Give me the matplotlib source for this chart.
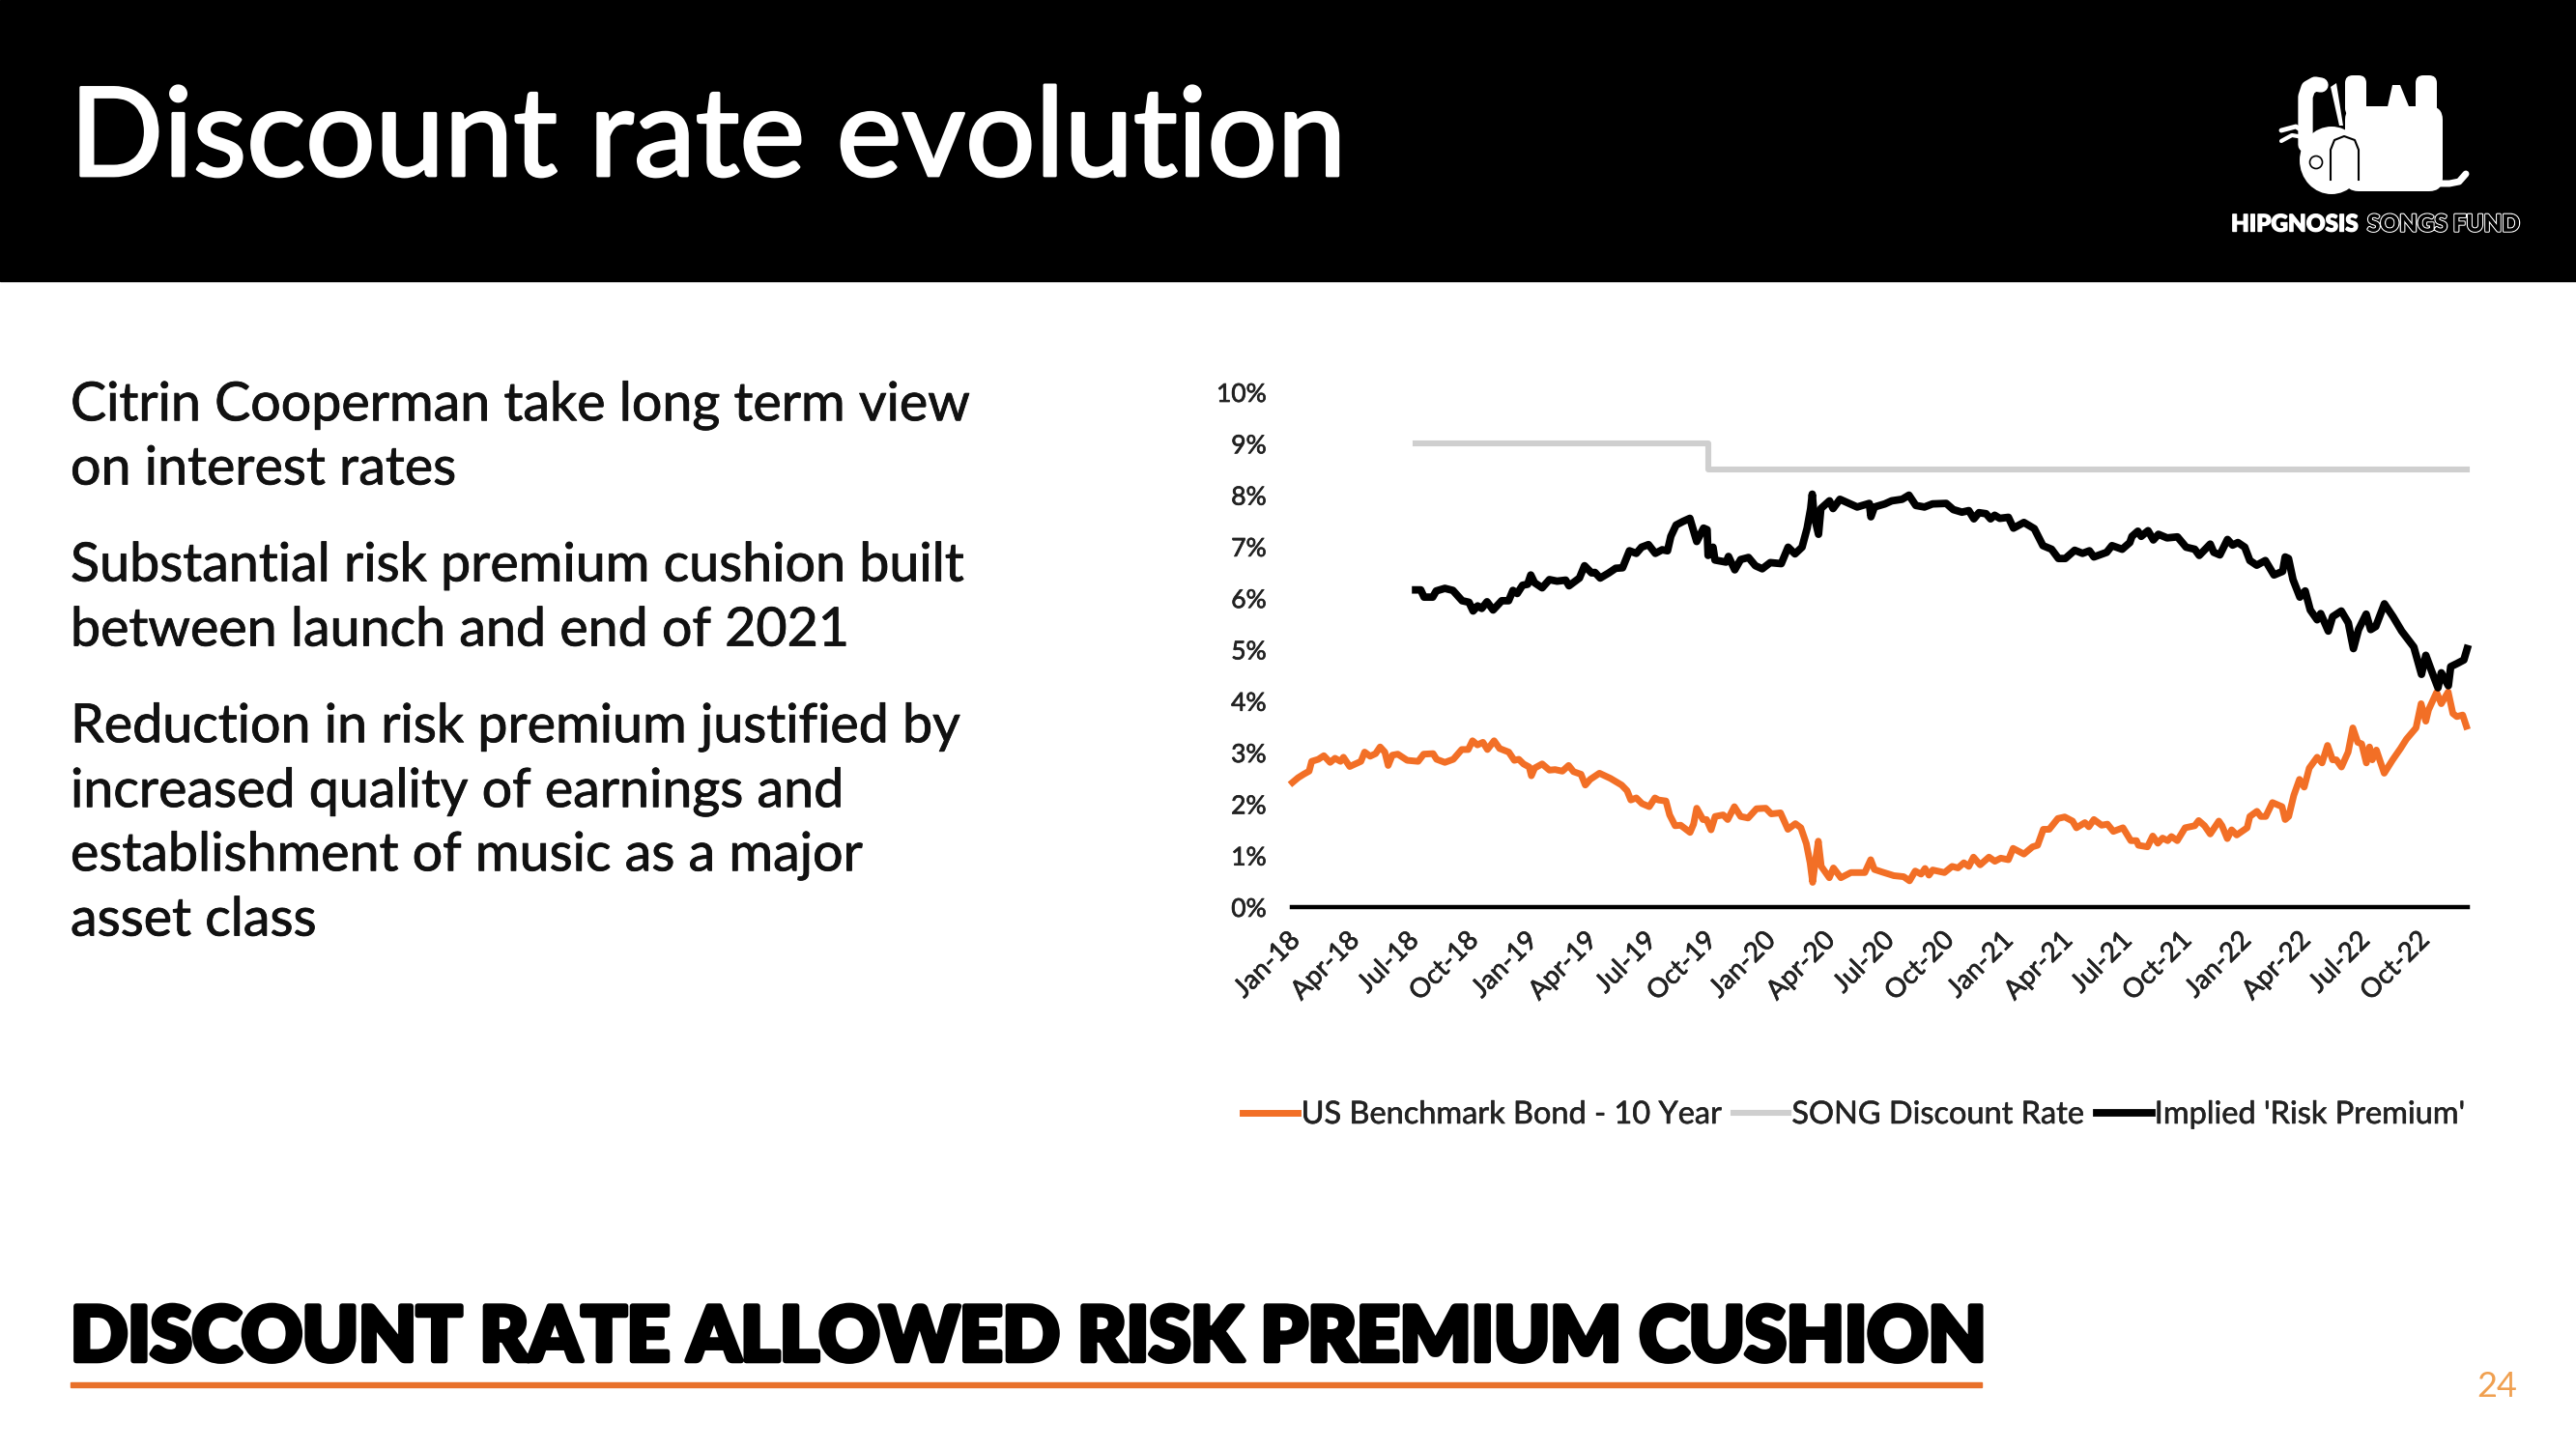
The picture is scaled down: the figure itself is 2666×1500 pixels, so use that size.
import matplotlib
matplotlib.use("Agg")
import matplotlib.pyplot as plt
import matplotlib.patheffects as pe
from matplotlib.patches import Rectangle, FancyBboxPatch, Circle, Ellipse, Polygon
from matplotlib.transforms import ScaledTranslation

plt.rcParams["font.family"] = ["Lato", "DejaVu Sans"]

# months since Jan-18, values in percent
bond_months = [0.03, .31, .60, .88, 1.01, 1.35, 1.63, 1.95, 2.20, 2.48, 2.63, 2.95, 3.52, 3.71, 3.99, 4.27, 4.50, 4.74, 4.91, 5.12,
               5.40, 5.88, 6.44, 6.72, 7.20, 7.38, 7.80, 8.23, 8.66, 8.99, 9.21, 9.46, 9.74, 9.97, 10.31, 10.59, 11.06, 11.34, 11.57, 11.81,
               12.10, 12.21, 12.38, 12.76, 13.13, 13.42, 13.79, 14.11, 14.36, 14.74, 14.96, 15.21, 15.68, 16.24, 16.81, 17.09, 17.28, 17.56, 17.85, 18.22,
               18.51, 18.69, 19.07, 19.26, 19.54, 19.82, 20.30, 20.48, 20.64, 20.96, 21.14, 21.37, 21.58, 21.99, 22.22, 22.56, 22.88, 23.26, 23.69, 24.16,
               24.44, 24.91, 25.29, 25.67, 25.95, 26.23, 26.42, 26.55, 26.70, 26.84, 26.99, 27.40, 27.61, 27.99, 28.50, 29.21,
               29.51, 29.70, 30.10, 30.69, 31.19, 31.49, 31.78, 32.08, 32.28, 32.48, 32.67, 33.27, 33.66, 33.96, 34.26, 34.51, 34.75, 35.09, 35.54, 35.84,
               36.14, 36.53, 36.77, 37.32, 37.76, 38.02, 38.31, 38.61, 39.05, 39.40, 39.80, 40.00, 40.43, 40.63, 40.89, 41.28, 41.58, 41.88, 42.37, 42.77,
               43.06, 43.16, 43.62, 43.89, 44.15, 44.39, 44.65, 44.84, 45.14, 45.54, 46.03, 46.23, 46.53, 46.82, 47.26, 47.42, 47.69, 47.91, 48.17, 48.70,
               48.84, 49.20, 49.40, 49.65, 49.99, 50.48, 50.64, 50.82, 51.08, 51.37, 51.61, 51.87, 52.27, 52.52, 52.80, 53.06, 53.25, 53.51, 53.85, 54.09,
               54.34, 54.54, 54.78, 54.94, 55.08, 55.29, 55.69, 56.12, 56.52, 56.82, 57.31, 57.57, 57.81, 57.95, 58.36, 58.60, 58.95, 59.19, 59.39, 59.69, 59.88]
bond_values = [2.42, 2.51, 2.58, 2.64, 2.83, 2.87, 2.94, 2.81, 2.89, 2.83, 2.91, 2.73, 2.83, 3.01, 2.93, 2.98, 3.11, 3.01, 2.75, 2.95,
               2.97, 2.85, 2.83, 2.97, 2.98, 2.87, 2.81, 2.87, 3.06, 3.06, 3.23, 3.15, 3.20, 3.06, 3.23, 3.08, 3.01, 2.85, 2.87, 2.78,
               2.72, 2.55, 2.70, 2.78, 2.66, 2.67, 2.64, 2.75, 2.63, 2.58, 2.37, 2.48, 2.60, 2.50, 2.37, 2.26, 2.08, 2.12, 2.01, 1.95,
               2.12, 2.08, 2.06, 1.79, 1.58, 1.59, 1.45, 1.61, 1.92, 1.70, 1.70, 1.50, 1.76, 1.79, 1.70, 1.95, 1.76, 1.73, 1.91, 1.92,
               1.81, 1.83, 1.51, 1.62, 1.54, 1.23, 0.86, 0.48, 0.92, 1.28, 0.79, 0.57, 0.76, 0.57, 0.67, 0.67,
               0.92, 0.73, 0.68, 0.61, 0.59, 0.51, 0.70, 0.64, 0.75, 0.62, 0.72, 0.67, 0.79, 0.76, 0.86, 0.79, 0.97, 0.82, 0.97, 0.89,
               0.95, 0.92, 1.14, 1.03, 1.17, 1.20, 1.51, 1.51, 1.72, 1.75, 1.67, 1.54, 1.64, 1.56, 1.70, 1.59, 1.61, 1.47, 1.54, 1.29,
               1.29, 1.20, 1.17, 1.38, 1.24, 1.34, 1.29, 1.37, 1.29, 1.54, 1.58, 1.68, 1.58, 1.42, 1.67, 1.58, 1.33, 1.50, 1.40, 1.54,
               1.76, 1.86, 1.76, 1.76, 2.03, 1.95, 1.70, 1.76, 2.17, 2.48, 2.33, 2.70, 2.91, 2.80, 3.14, 2.86, 2.86, 2.72, 3.01, 3.48,
               3.20, 3.17, 2.80, 3.11, 2.86, 3.05, 2.60, 2.86, 3.08, 3.26, 3.48, 3.95, 3.61, 3.83, 4.17, 3.95, 4.18, 3.76, 3.70, 3.73, 3.51]

premium_months = [6.31, 6.57, 6.74, 7.18, 7.36, 7.80, 8.21, 8.68, 9.03, 9.24, 9.47, 9.68, 9.95, 10.26, 10.70, 11.05, 11.27, 11.49, 11.76, 12.02,
                  12.18, 12.37, 12.76, 13.13, 13.52, 13.96, 14.13, 14.66, 14.92, 15.28, 15.45, 15.72, 16.16, 16.51, 16.86, 17.21, 17.56, 17.83, 18.18, 18.53,
                  18.88, 19.15, 19.32, 19.59, 19.94, 20.29, 20.64, 20.99, 21.17, 21.22, 21.47, 21.57, 22.14, 22.26, 22.58, 22.88, 23.28, 23.63, 23.98, 24.39,
                  24.95, 25.30, 25.65, 26.01, 26.27, 26.45, 26.53, 26.62, 26.85, 26.97, 27.41, 27.59, 27.94, 28.47, 28.82, 29.44, 29.52, 29.70, 30.23, 30.58,
                  31.11, 31.46, 31.81, 32.25, 32.66, 33.36, 33.72, 34.16, 34.51, 34.77, 35.03, 35.39, 35.62, 35.83, 36.09, 36.53, 36.79, 37.32, 37.85, 38.29,
                  38.73, 39.08, 39.43, 39.91, 40.31, 40.66, 40.89, 41.54, 41.81, 42.33, 42.72, 42.83, 43.13, 43.30, 43.65, 43.92, 44.18, 44.62, 45.15, 45.59,
                  46.03, 46.26, 46.82, 47.00, 47.31, 47.70, 47.96, 48.23, 48.58, 48.84, 49.19, 49.63, 50.07, 50.51, 50.64, 50.81, 51.04, 51.39, 51.66, 51.92,
                  52.27, 52.45, 52.84, 53.06, 53.50, 53.86, 54.12, 54.38, 54.77, 55.00, 55.26, 55.70, 56.14, 56.58, 57.20, 57.59, 57.81, 58.08, 58.43, 58.60,
                  58.96, 59.08, 59.40, 59.75, 59.92]
premium_values = [6.16, 6.16, 6.02, 6.02, 6.14, 6.19, 6.15, 5.95, 5.92, 5.75, 5.85, 5.80, 5.93, 5.77, 5.95, 5.95, 6.15, 6.09, 6.25, 6.27,
                  6.45, 6.30, 6.20, 6.36, 6.33, 6.35, 6.24, 6.39, 6.63, 6.49, 6.50, 6.39, 6.49, 6.58, 6.59, 6.92, 6.87, 6.99, 7.04, 6.87,
                  6.94, 6.92, 7.20, 7.42, 7.49, 7.55, 7.10, 7.36, 7.33, 6.83, 6.99, 6.74, 6.70, 6.81, 6.55, 6.75, 6.79, 6.63, 6.57, 6.69,
                  6.67, 6.99, 6.86, 6.99, 7.36, 7.74, 8.02, 7.61, 7.24, 7.74, 7.89, 7.74, 7.92, 7.83, 7.77, 7.84, 7.58, 7.77, 7.83, 7.89,
                  7.92, 8.00, 7.80, 7.77, 7.83, 7.84, 7.72, 7.67, 7.70, 7.54, 7.66, 7.64, 7.54, 7.61, 7.55, 7.57, 7.36, 7.47, 7.35, 7.02,
                  6.95, 6.77, 6.77, 6.93, 6.87, 6.92, 6.80, 6.89, 7.02, 6.95, 7.08, 7.20, 7.30, 7.20, 7.31, 7.13, 7.24, 7.17, 7.19, 6.99,
                  6.95, 6.83, 7.05, 6.89, 6.84, 7.14, 7.03, 7.08, 6.99, 6.73, 6.64, 6.73, 6.45, 6.52, 6.80, 6.77, 6.36, 6.02, 6.14, 5.77,
                  5.58, 5.70, 5.36, 5.64, 5.75, 5.52, 5.02, 5.39, 5.69, 5.39, 5.45, 5.89, 5.64, 5.36, 5.05, 4.52, 4.89, 4.61, 4.26, 4.55,
                  4.30, 4.67, 4.73, 4.80, 5.02]

song_months = [6.31, 21.22, 21.22, 59.92]
song_values = [9.0, 9.0, 8.5, 8.5]

tick_labels = ["Jan-18", "Apr-18", "Jul-18", "Oct-18", "Jan-19", "Apr-19", "Jul-19", "Oct-19", "Jan-20", "Apr-20",
               "Jul-20", "Oct-20", "Jan-21", "Apr-21", "Jul-21", "Oct-21", "Jan-22", "Apr-22", "Jul-22", "Oct-22"]
y_ticks = [0, 1, 2, 3, 4, 5, 6, 7, 8, 9, 10]

left_lines = ["Citrin Cooperman take long term view", "on interest rates",
              "Substantial risk premium cushion built", "between launch and end of 2021",
              "Reduction in risk premium justified by", "increased quality of earnings and",
              "establishment of music as a major", "asset class"]

ORANGE = "#F26F26"
GREY = "#CFCFCF"
W, H = 2666, 1500

fig = plt.figure(figsize=(W / 100, H / 100), dpi=100, facecolor="white")

# whole slide in pixels, y going down
bg = fig.add_axes([0, 0, 1, 1])
bg.set_xlim(0, W)
bg.set_ylim(H, 0)
bg.axis("off")

bg.add_patch(Rectangle((0, 0), W, 291, color="black"))
title = bg.text(72, 146, "Discount rate evolution", color="white", fontsize=92, va="center", ha="left")
title.set_path_effects([pe.withStroke(linewidth=2, foreground="white")])

for y, line in zip([420, 486, 586, 653, 753, 820, 886, 953], left_lines):
    t = bg.text(73, y, line, fontsize=40, va="center", ha="left", color="#111111")
    t.set_path_effects([pe.withStroke(linewidth=0.6, foreground="#111111")])

head = bg.text(73, 1386, "DISCOUNT RATE ALLOWED RISK PREMIUM CUSHION", fontsize=56, fontweight="black",
               va="center", ha="left", color="black")
head.set_path_effects([pe.withStroke(linewidth=4, foreground="black")])
bg.add_patch(Rectangle((73, 1431), 1978, 5, color="#E8702A"))
bg.text(2584, 1435, "24", fontsize=26, color="#F0A050", va="center", ha="center")

# logo, elephant on its back
def blob(x0, y0, x1, y1, r=8):
    bg.add_patch(FancyBboxPatch((x0 + r, y0 + r), x1 - x0 - 2 * r, y1 - y0 - 2 * r,
                                boxstyle=f"round,pad={r}", fc="white", ec="none"))

blob(2427, 110, 2528, 198, 14)
blob(2427, 78, 2449, 120, 8)
blob(2500, 78, 2522, 120, 8)
bg.add_patch(Polygon([[2470, 115], [2476, 88], [2484, 88], [2495, 115]], fc="white", ec="none"))
bg.add_patch(Polygon([[2412, 90], [2418, 86], [2425, 130], [2421, 130]], fc="white", ec="none"))
bg.plot([2386, 2386, 2389, 2396, 2402], [150, 100, 91, 87, 88], color="white", lw=11, solid_capstyle="round")
bg.add_patch(Ellipse((2413, 166), 66, 70, fc="white", ec="none"))
bg.plot([2480, 2535, 2545, 2552], [190, 190, 188, 180], color="white", lw=5, solid_capstyle="round")
bg.plot([2412, 2412, 2416, 2426, 2437, 2441, 2441], [186, 155, 145, 141, 145, 155, 186], color="black", lw=1.5)
bg.add_patch(Circle((2397, 168), 6.5, fc="white", ec="black", lw=1.2))
bg.plot([2361, 2376, 2397], [135, 131, 144], color="white", lw=3.5, solid_capstyle="round")
bg.plot([2361, 2372, 2384], [146, 140, 142], color="white", lw=3, solid_capstyle="round")
hip = bg.text(2309, 232, "HIPGNOSIS", color="white", fontsize=17.5, fontweight="black", va="center", ha="left")
hip.set_path_effects([pe.withStroke(linewidth=1, foreground="white")])
songs = bg.text(2450, 232, "SONGS FUND", color="black", fontsize=17.5, fontweight="black", va="center", ha="left")
songs.set_path_effects([pe.withStroke(linewidth=1.8, foreground="white"), pe.Normal()])

# the chart
ax = fig.add_axes([1337 / W, 1 - 939 / H, (2554 - 1337) / W, (939 - 406) / H])
ax.patch.set_alpha(0)
ax.plot(bond_months, bond_values, color=ORANGE, lw=5, label="US Benchmark Bond - 10 Year",
        solid_joinstyle="round", clip_on=False)
ax.plot(song_months, song_values, color=GREY, lw=4.4, label="SONG Discount Rate",
        solid_joinstyle="round", clip_on=False)
ax.plot(premium_months, premium_values, color="black", lw=5.6, label="Implied 'Risk Premium'",
        solid_joinstyle="round", clip_on=False)

ax.set_xlim(0, 59.95)
ax.set_ylim(0, 10)
ax.set_yticks(y_ticks)
ax.set_yticklabels([f"{v}%" for v in y_ticks], fontsize=19, color="#222222")
ax.set_xticks([i * 3.03 for i in range(len(tick_labels))])
ax.set_xticklabels(tick_labels, fontsize=20, rotation=45, ha="right", rotation_mode="anchor", color="#222222")
ax.tick_params(axis="y", length=0, pad=19)
ax.tick_params(axis="x", length=0, pad=15)
shift = ScaledTranslation(-5 / 100, 0, fig.dpi_scale_trans)
for lab in ax.get_xticklabels():
    lab.set_transform(lab.get_transform() + shift)
    lab.set_path_effects([pe.withStroke(linewidth=0.5, foreground="#222222")])
for lab in ax.get_yticklabels():
    lab.set_path_effects([pe.withStroke(linewidth=0.5, foreground="#222222")])
for side in ["top", "left", "right"]:
    ax.spines[side].set_visible(False)
ax.spines["bottom"].set_linewidth(3.2)

leg = ax.legend(loc="center", bbox_to_anchor=((1919 - 1337) / (2554 - 1337), (939 - 1154) / (939 - 406)), ncol=3,
                frameon=False, fontsize=23.4, handlelength=1.75, handletextpad=0.1, columnspacing=0.37, borderpad=0)
for t in leg.get_texts():
    t.set_color("#222222")
    t.set_path_effects([pe.withStroke(linewidth=0.4, foreground="#222222")])

fig.savefig("out.png", dpi=100)
